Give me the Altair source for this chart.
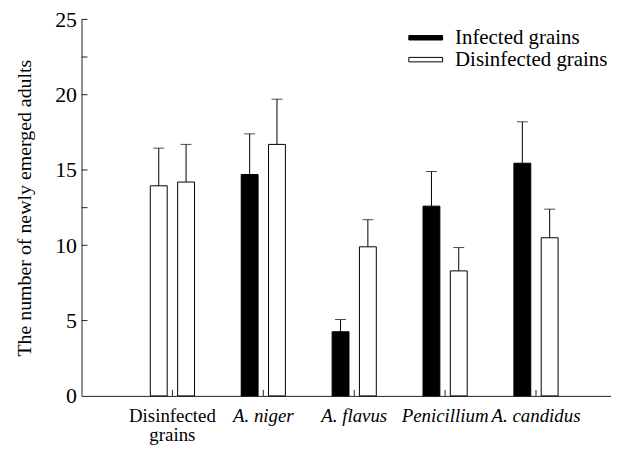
import altair as alt
import pandas as pd

groups = ["Disinfected grains", "A. niger", "A. flavus", "Penicillium", "A. candidus"]
left_series = ["Disinfected grains", "Infected grains", "Infected grains", "Infected grains", "Infected grains"]
left_vals = [13.95, 14.7, 4.26, 12.6, 15.45]
left_err_top = [16.45, 17.4, 5.07, 14.9, 18.2]
right_series = ["Disinfected grains"] * 5
right_vals = [14.2, 16.7, 9.9, 8.3, 10.5]
right_err_top = [16.7, 19.7, 11.7, 9.85, 12.4]
series_order = ["Infected grains", "Disinfected grains"]
series_colors = ["black", "white"]
y_ticks = [5, 10, 12.5, 15, 20, 22.5, 25]

rows = []
for i, g in enumerate(groups):
    rows.append({"group": g, "slot": "L", "series": left_series[i], "value": left_vals[i], "top": left_err_top[i]})
    rows.append({"group": g, "slot": "R", "series": right_series[i], "value": right_vals[i], "top": right_err_top[i]})
df = pd.DataFrame(rows)

W, H = 533, 379
FONT = "Liberation Serif, Times New Roman, DejaVu Serif, serif"

xscale = alt.Scale(domain=groups, paddingInner=0, paddingOuter=0.4126, align=0.606)
xoff = alt.XOffset("slot:N", scale=alt.Scale(domain=["L", "R"], paddingInner=0.382, paddingOuter=0.8545))
yscale = alt.Scale(domain=[0, 25], nice=False, zero=True)

x_axis = alt.Axis(
    title=None, ticks=False, domain=True, domainColor="#222", labelAngle=0,
    labelFont=FONT, labelFontSize=19, labelColor="black", labelPadding=11,
    labelBaseline="top", labelLineHeight=19,
    labelExpr="datum.value == 'Disinfected grains' ? ['Disinfected', 'grains'] : datum.label",
    labelFontStyle={"condition": {"test": "datum.value == 'Disinfected grains'", "value": "normal"}, "value": "italic"},
)
y_axis = alt.Axis(
    title="The number of newly emerged adults", titleFont=FONT, titleFontSize=20,
    titleFontWeight="normal", titleColor="black", titlePadding=20,
    values=[0, 5, 10, 15, 20, 25], ticks=False, grid=False, domainColor="#222",
    labelFont=FONT, labelFontSize=22, labelColor="black", labelPadding=5,
)

base = alt.Chart(df)

bars = base.mark_bar(stroke="black", strokeWidth=1).encode(
    x=alt.X("group:N", scale=xscale, axis=x_axis, sort=groups),
    xOffset=xoff,
    y=alt.Y("value:Q", scale=yscale, axis=y_axis),
    fill=alt.Fill("series:N", scale=alt.Scale(domain=series_order, range=series_colors),
                  legend=alt.Legend(
                      title=None, orient="none", legendX=336, legendY=8, padding=0,
                      symbolType="M-3.4,-0.45H3.4V0.45H-3.4Z", symbolSize=100,
                      symbolStrokeColor="black", symbolStrokeWidth=1,
                      labelFont=FONT, labelFontSize=21, labelColor="black",
                      labelOffset=19, rowPadding=0,
                  )),
)

err = base.mark_rule(color="black", strokeWidth=1).encode(
    x=alt.X("group:N", scale=xscale, sort=groups),
    xOffset=xoff,
    y=alt.Y("value:Q", scale=yscale),
    y2="top:Q",
)

caps = base.mark_tick(color="black", thickness=1, size=11).encode(
    x=alt.X("group:N", scale=xscale, sort=groups),
    xOffset=xoff,
    y=alt.Y("top:Q", scale=yscale),
)

ytick_df = pd.DataFrame({"v": y_ticks})
yticks = alt.Chart(ytick_df).mark_rule(color="#222", strokeWidth=1).encode(
    y=alt.Y("v:Q", scale=yscale),
    x=alt.value(0),
    x2=alt.value(6),
)

xtick_df = pd.DataFrame({"group": groups})
xticks = alt.Chart(xtick_df).mark_rule(color="#222", strokeWidth=1).encode(
    x=alt.X("group:N", scale=xscale, sort=groups),
    y=alt.value(H),
    y2=alt.value(H - 6),
)

chart = alt.layer(bars, err, caps, yticks, xticks).properties(
    width=W, height=H,
    autosize=alt.AutoSizeParams(type="none"),
    padding={"left": 74, "top": 10, "right": 0, "bottom": 54},
).configure_view(stroke=None).configure_axis(domainWidth=1)

chart.save("out.html", embed_options={"renderer": "svg", "actions": False})
